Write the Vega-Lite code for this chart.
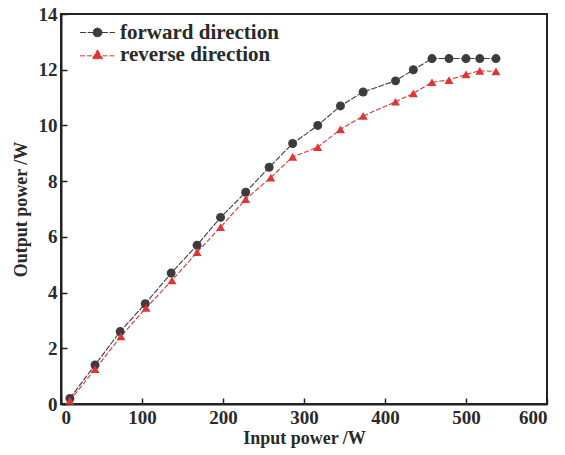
{
  "$schema": "https://vega.github.io/schema/vega-lite/v6.json",
  "width": 486,
  "height": 390,
  "autosize": {"type": "none"},
  "padding": {"left": 61, "top": 14, "right": 18, "bottom": 51},
  "background": "white",
  "config": {
    "view": {"stroke": "#222", "strokeWidth": 2},
    "font": "Liberation Serif",
    "axis": {
      "labelFont": "Liberation Serif",
      "labelFontSize": 19,
      "labelFontWeight": "bold",
      "labelColor": "#2a2a2a",
      "titleFont": "Liberation Serif",
      "titleFontSize": 18,
      "titleFontWeight": "bold",
      "titleColor": "#2a2a2a",
      "domainColor": "#222",
      "domainWidth": 2,
      "tickColor": "#222",
      "tickWidth": 1.5,
      "tickSize": -6,
      "labelPadding": 10,
      "grid": false
    },
    "legend": {
      "labelFont": "Liberation Serif",
      "labelFontSize": 21,
      "labelFontWeight": "bold",
      "labelColor": "#2a2a2a"
    }
  },
  "data": {
    "values": [
      {"x": 11, "y": 0.2, "series": "forward direction"},
      {"x": 42, "y": 1.4, "series": "forward direction"},
      {"x": 73, "y": 2.6, "series": "forward direction"},
      {"x": 104, "y": 3.6, "series": "forward direction"},
      {"x": 136, "y": 4.7, "series": "forward direction"},
      {"x": 168, "y": 5.7, "series": "forward direction"},
      {"x": 197, "y": 6.7, "series": "forward direction"},
      {"x": 228, "y": 7.6, "series": "forward direction"},
      {"x": 257, "y": 8.5, "series": "forward direction"},
      {"x": 286, "y": 9.35, "series": "forward direction"},
      {"x": 317, "y": 10.0, "series": "forward direction"},
      {"x": 345, "y": 10.7, "series": "forward direction"},
      {"x": 373, "y": 11.2, "series": "forward direction"},
      {"x": 413, "y": 11.6, "series": "forward direction"},
      {"x": 435, "y": 12.0, "series": "forward direction"},
      {"x": 458, "y": 12.4, "series": "forward direction"},
      {"x": 479, "y": 12.4, "series": "forward direction"},
      {"x": 500, "y": 12.4, "series": "forward direction"},
      {"x": 517, "y": 12.4, "series": "forward direction"},
      {"x": 537, "y": 12.4, "series": "forward direction"},
      {"x": 11, "y": 0.12, "series": "reverse direction"},
      {"x": 42, "y": 1.25, "series": "reverse direction"},
      {"x": 74, "y": 2.43, "series": "reverse direction"},
      {"x": 105, "y": 3.45, "series": "reverse direction"},
      {"x": 137, "y": 4.44, "series": "reverse direction"},
      {"x": 168, "y": 5.45, "series": "reverse direction"},
      {"x": 197, "y": 6.35, "series": "reverse direction"},
      {"x": 228, "y": 7.35, "series": "reverse direction"},
      {"x": 259, "y": 8.13, "series": "reverse direction"},
      {"x": 286, "y": 8.87, "series": "reverse direction"},
      {"x": 317, "y": 9.22, "series": "reverse direction"},
      {"x": 345, "y": 9.86, "series": "reverse direction"},
      {"x": 373, "y": 10.34, "series": "reverse direction"},
      {"x": 413, "y": 10.85, "series": "reverse direction"},
      {"x": 435, "y": 11.15, "series": "reverse direction"},
      {"x": 458, "y": 11.55, "series": "reverse direction"},
      {"x": 479, "y": 11.63, "series": "reverse direction"},
      {"x": 500, "y": 11.83, "series": "reverse direction"},
      {"x": 517, "y": 11.96, "series": "reverse direction"},
      {"x": 537, "y": 11.94, "series": "reverse direction"}
    ]
  },
  "encoding": {
    "x": {
      "field": "x",
      "type": "quantitative",
      "scale": {"domain": [0, 600], "nice": false},
      "axis": {"title": "Input power /W", "values": [0, 100, 200, 300, 400, 500, 600], "titlePadding": 2}
    },
    "y": {
      "field": "y",
      "type": "quantitative",
      "scale": {"domain": [0, 14], "nice": false},
      "axis": {"title": "Output power /W", "values": [0, 2, 4, 6, 8, 10, 12, 14], "titlePadding": 8}
    },
    "color": {
      "field": "series",
      "type": "nominal",
      "scale": {"domain": ["forward direction", "reverse direction"], "range": ["#3c3c3c", "#e03535"]},
      "legend": {
        "title": null,
        "orient": "none",
        "legendX": 26,
        "legendY": 8,
        "padding": 0,
        "rowPadding": 0,
        "labelOffset": 12,
        "symbolSize": 80,
        "symbolStrokeWidth": 1,
        "encode": {
          "symbols": {
            "update": {
              "shape": {"signal": "datum.value === 'forward direction' ? 'M-3.9,0L-1.0,0M1.0,0L3.9,0M1.0,0A1.0,1.0,0,1,1,-1.0,0A1.0,1.0,0,1,1,1.0,0Z' : 'M-3.9,0.3L-1.1,0.3M1.1,0.3L3.9,0.3M0,-1.05L1.15,0.95L-1.15,0.95Z'"},
              "stroke": {"signal": "datum.value === 'forward direction' ? '#888888' : '#e03535'"},
              "fill": {"scale": "color", "field": "value"},
              "strokeWidth": {"value": 1},
              "strokeDash": {"value": []}
            }
          }
        }
      }
    }
  },
  "layer": [
    {
      "mark": {"type": "line", "strokeWidth": 1.1},
      "encoding": {
        "strokeDash": {
          "field": "series",
          "type": "nominal",
          "scale": {"domain": ["forward direction", "reverse direction"], "range": [[6, 1.5], [5, 2]]},
          "legend": null
        }
      }
    },
    {
      "mark": {"type": "point", "filled": true, "opacity": 1},
      "encoding": {
        "shape": {
          "condition": {"test": "datum.series === 'reverse direction'", "value": "triangle-up"},
          "value": "circle"
        },
        "size": {"value": 80}
      }
    }
  ]
}
